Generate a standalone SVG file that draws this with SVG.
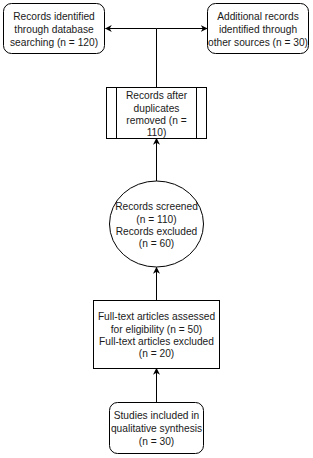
<svg xmlns="http://www.w3.org/2000/svg" width="313" height="458" viewBox="0 0 313 458">
<style>
.n{fill:#fff;stroke:#000;stroke-width:1}
.t{font-family:"Liberation Sans",Arial,sans-serif;font-size:10.2px;fill:#1a1a1a;text-anchor:middle}
.c{fill:none;stroke:#000;stroke-width:1}
</style>
<defs>
<marker id="a" viewBox="0 0 10 10" refX="9" refY="5" markerWidth="7" markerHeight="7" markerUnits="userSpaceOnUse" orient="auto">
<path d="M0,0 L10,5 L0,10 L3,5 Z" fill="#000"/>
</marker>
</defs>
<rect width="313" height="458" fill="#fff"/>
<g id="connectors">
<path class="c" d="M156.5,87 V28.5 H105.5" marker-end="url(#a)"/>
<path class="c" d="M156.5,28.5 H207" marker-end="url(#a)"/>
<path class="c" d="M156.5,181 V138.5" marker-end="url(#a)"/>
<path class="c" d="M156.5,300 V267.5" marker-end="url(#a)"/>
<path class="c" d="M156.5,402 V368.5" marker-end="url(#a)"/>
</g>
<g id="db">
<rect class="n" x="3.5" y="3.5" width="101" height="50" rx="8"/>
<text class="t" x="54" y="19.5">Records identified</text>
<text class="t" x="54" y="32.5">through database</text>
<text class="t" x="54" y="45.5">searching (n = 120)</text>
</g>
<g id="other">
<rect class="n" x="207.5" y="3.5" width="101" height="50" rx="8"/>
<text class="t" x="258" y="19.5">Additional records</text>
<text class="t" x="258" y="32.5">identified through</text>
<text class="t" x="258" y="45.5">other sources (n = 30)</text>
</g>
<g id="dup">
<rect class="n" x="106.5" y="87.5" width="100" height="51"/>
<line class="c" x1="116.5" y1="87.5" x2="116.5" y2="138.5"/>
<line class="c" x1="196.5" y1="87.5" x2="196.5" y2="138.5"/>
<text class="t" x="156.5" y="99">Records after</text>
<text class="t" x="156.5" y="111.5">duplicates</text>
<text class="t" x="156.5" y="124">removed (n =</text>
<text class="t" x="156.5" y="136">110)</text>
</g>
<g id="screened">
<ellipse class="n" cx="156.5" cy="224" rx="47" ry="43"/>
<text class="t" x="156.5" y="210">Records screened</text>
<text class="t" x="156.5" y="222.5">(n = 110)</text>
<text class="t" x="156.5" y="235">Records excluded</text>
<text class="t" x="156.5" y="247">(n = 60)</text>
</g>
<g id="fulltext">
<rect class="n" x="93.5" y="300.5" width="126" height="68"/>
<text class="t" x="156.5" y="320">Full-text articles assessed</text>
<text class="t" x="156.5" y="332.5">for eligibility (n = 50)</text>
<text class="t" x="156.5" y="345">Full-text articles excluded</text>
<text class="t" x="156.5" y="357">(n = 20)</text>
</g>
<g id="included">
<rect class="n" x="109.5" y="402.5" width="94" height="51" rx="8"/>
<text class="t" x="156.5" y="419">Studies included in</text>
<text class="t" x="156.5" y="432">qualitative synthesis</text>
<text class="t" x="156.5" y="445">(n = 30)</text>
</g>
</svg>
